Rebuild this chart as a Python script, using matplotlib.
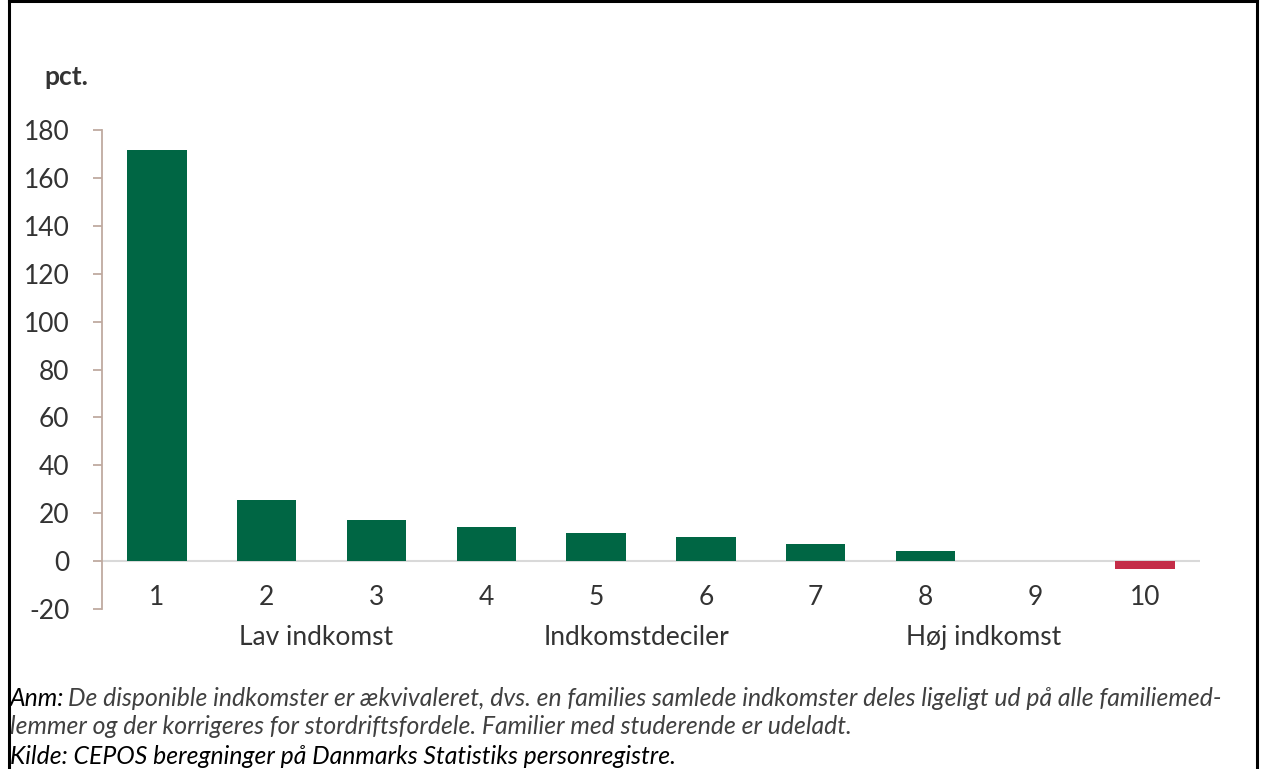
import matplotlib.pyplot as plt
from matplotlib.lines import Line2D

# data
deciles = ['1', '2', '3', '4', '5', '6', '7', '8', '9', '10']
values = [171.7, 25.6, 17.2, 14.3, 11.8, 10.1, 7.2, 4.3, 0.0, -3.3]
yticks = [-20, 0, 20, 40, 60, 80, 100, 120, 140, 160, 180]
group_labels = ['Lav indkomst', 'Indkomstdeciler', 'Høj indkomst']
group_pos = [2.45, 5.37, 8.53]

green = '#006644'
red = '#C42D48'
spine_col = '#BFAAA0'
text_col = '#333333'

plt.rcParams['font.family'] = ['Lato', 'DejaVu Sans']

fig = plt.figure(figsize=(12.64, 7.69), dpi=100)
ax = fig.add_axes([102 / 1264, 1 - 609 / 769, (1200 - 102) / 1264, (609 - 130) / 769])

x = list(range(1, len(deciles) + 1))
colors = [green if v >= 0 else red for v in values]
ax.bar(x, values, width=0.54, color=colors, zorder=3)
ax.axhline(0, color='#D9D9D9', lw=1.5, zorder=2)

ax.set_xlim(0.5, 10.5)
ax.set_ylim(-20, 180)
ax.set_yticks(yticks)
ax.set_yticklabels([str(t) for t in yticks])
ax.set_xticks([])

for s in ['top', 'right', 'bottom']:
    ax.spines[s].set_visible(False)
ax.spines['left'].set_color(spine_col)
ax.spines['left'].set_linewidth(1.3)
ax.tick_params(axis='y', colors=spine_col, length=6.5, width=1.3, pad=17,
               labelsize=19, labelcolor=text_col)

# category labels under the zero line
for xi, lab in zip(x, deciles):
    ax.text(xi, -15.2, lab, ha='center', va='center', fontsize=19,
            color=text_col, clip_on=False)
for lab, pos in zip(group_labels, group_pos):
    ax.text(pos, -31.8, lab, ha='center', va='center', fontsize=19,
            color=text_col, clip_on=False)

fig.text(44 / 1264, 1 - 77 / 769, 'pct.', fontsize=19, fontweight='bold',
         color=text_col, va='center', ha='left')

# footnotes
fs = 17.8
fy = [698, 727, 757]
t1 = fig.text(10 / 1264, 1 - fy[0] / 769, 'Anm:', fontsize=fs, style='italic',
              color='black', va='center', ha='left')
fig.canvas.draw()
bb = t1.get_window_extent()
fig.text(bb.x1 / 1264 + 0.003, 1 - fy[0] / 769,
         'De disponible indkomster er ækvivaleret, dvs. en families samlede indkomster deles ligeligt ud på alle familiemed-',
         fontsize=fs, style='italic', color='#404040', va='center', ha='left')
fig.text(10 / 1264, 1 - fy[1] / 769,
         'lemmer og der korrigeres for stordriftsfordele. Familier med studerende er udeladt.',
         fontsize=fs, style='italic', color='#404040', va='center', ha='left')
fig.text(10 / 1264, 1 - fy[2] / 769,
         'Kilde: CEPOS beregninger på Danmarks Statistiks personregistre.',
         fontsize=fs, style='italic', color='black', va='center', ha='left')

# frame around the figure
xl, xr, yt = 9 / 1264, 1256.5 / 1264, 1 - 1 / 769
for xs, ys in [([xl, xl], [0, yt]), ([xr, xr], [0, yt]), ([xl, xr], [yt, yt])]:
    fig.add_artist(Line2D(xs, ys, color='black', lw=2.2, transform=fig.transFigure))

fig.savefig('out.png', dpi=100)
